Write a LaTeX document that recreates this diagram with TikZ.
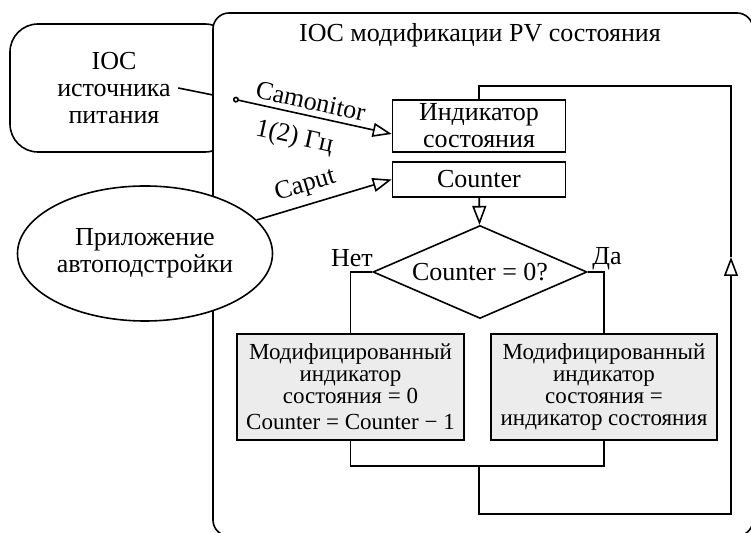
\documentclass[tikz,border=0pt]{standalone}
\usepackage{fontspec}
\setmainfont{Liberation Serif}
\usetikzlibrary{shapes.geometric,arrows.meta}

\begin{document}
\begin{tikzpicture}[%
      x=0.5pt, y=-0.5pt,
      line width=0.8pt,
      font=\fontsize{13}{13.5}\selectfont,
      flowarrow/.style={-{Triangle[open,length=9.5pt,width=7pt]}},
      block/.style={draw, inner sep=0pt, align=center, minimum width=86.5pt},
      modblock/.style={draw, fill=gray!15, inner sep=0pt, align=center,
        minimum height=53pt, font=\fontsize{11.5}{11}\selectfont},
      ]
      \useasboundingbox (0,0) rectangle (751,533);
      \clip (0,0) rectangle (751,533);

      % outer IOC blocks
      \draw [rounded corners=14pt] (10,24) rectangle (233,152);
      \node [align=center] (psu) at (114,88) {IOC\\источника\\питания};
      \draw [fill=white, rounded corners=8pt] (213,13) rectangle (753,536);
      \node (title) at (480,35) {IOC модификации PV состояния};

      \node [ellipse, draw, fill=white, align=center, inner sep=0pt,
             minimum width=127.5pt, minimum height=67.5pt] (app) at (145,253.5)
            {Приложение\\автоподстройки};

      % PV blocks
      \node [block, minimum height=26pt, font=\fontsize{13}{13.5}\selectfont] (ind) at (479,126)
            {Индикатор\\состояния};
      \node [block, minimum height=17.5pt] (counter) at (479,179.5) {Counter};
      \node [diamond, draw, inner sep=0pt, aspect=2.3,
             minimum width=107pt, minimum height=46.5pt] (dia) at (480,272) {Counter = 0?};
      \node (no) at (352,258) {Нет};
      \node (yes) at (607,259) {Да};

      \node [modblock, minimum width=113.5pt] (mod0) at (350.5,387)
            {Модифицированный\\индикатор\\состояния = 0\\[2pt]Counter = Counter − 1};
      \node [modblock, minimum width=113pt] (mod1) at (604,387)
            {Модифицированный\\индикатор\\состояния =\\индикатор состояния};

      \coordinate (camout) at (213,95);
      \coordinate (camin) at (233,99);
      \coordinate (join) at (479,466);
      \coordinate (loopbr) at (731,514);
      \coordinate (looparr) at (731,257);
      \coordinate (looptop) at (479,86);

      % connectors
      \draw (psu.east) -- (camout);
      \draw [{Circle[open,length=3pt]}-{Triangle[open,length=9.5pt,width=7pt]}] (camin) --
            node [sloped, above, pos=0.47, inner sep=2.5pt] {Camonitor}
            node [sloped, below, pos=0.42, inner sep=6pt] {1(2) Гц} ([yshift=-4pt]ind.west);
      \draw [flowarrow] (app) -- node [sloped, above, pos=0.4] {Caput} (counter.west);

      \draw [flowarrow] (counter) -- (dia);
      \draw (dia.west) -| (mod0.north);
      \draw (dia.east) -| (mod1.north);
      \draw (mod0.south) |- (join) -| (mod1.south);
      \draw [flowarrow] (join) |- (loopbr) -- (looparr);
      \draw (looparr) |- (looptop) -- (ind.north);
      \end{tikzpicture}
\end{document}
